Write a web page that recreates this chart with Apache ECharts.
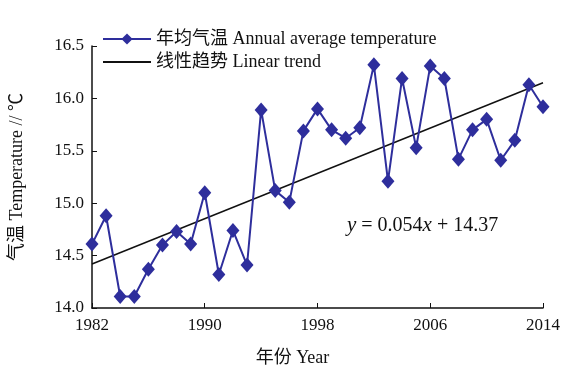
<!DOCTYPE html>
<html>
<head>
<meta charset="utf-8">
<script src="https://cdn.jsdelivr.net/npm/echarts@6/dist/echarts.min.js"></script>
<style>
html,body{margin:0;padding:0;background:#fff;}
#main{width:563px;height:372px;}
</style>
</head>
<body>
<div id="main"></div>
<script>
var years = ['1982','1983','1984','1985','1986','1987','1988','1989','1990','1991','1992','1993','1994','1995','1996','1997','1998','1999','2000','2001','2002','2003','2004','2005','2006','2007','2008','2009','2010','2011','2012','2013','2014'];
var temps = [14.61,14.88,14.11,14.11,14.37,14.60,14.73,14.61,15.10,14.32,14.74,14.41,15.89,15.12,15.01,15.69,15.90,15.70,15.62,15.72,16.32,15.21,16.19,15.53,16.31,16.19,15.42,15.70,15.80,15.41,15.60,16.13,15.92];
var trendYears = ['1982','2014'];
var trendValues = [14.42, 16.15];
var yTicks = [14.0, 14.5, 15.0, 15.5, 16.0, 16.5];

var FONT = '"Liberation Serif", "Noto Sans CJK SC", serif';
var BLUE = '#2e2e9c';

var trendData = years.map(function(y){
  var i = trendYears.indexOf(y);
  return i >= 0 ? trendValues[i] : null;
});

var chart = echarts.init(document.getElementById('main'), null, {renderer:'canvas'});
chart.setOption({
  animation:false,
  backgroundColor:'#fff',
  textStyle:{fontFamily:FONT},
  grid:{left:90.5,right:20,top:46,bottom:61},
  legend:{
    orient:'vertical', left:97, top:25, itemWidth:48, itemHeight:14, itemGap:5,
    textStyle:{fontFamily:FONT, fontSize:18, color:'#111'},
    data:[
      {name:'年均气温 Annual average temperature'},
      {name:'线性趋势 Linear trend', itemStyle:{opacity:0}}
    ]
  },
  xAxis:{
    type:'category', data:years, boundaryGap:false,
    name:'年份 Year', nameLocation:'middle', nameGap:41,
    nameTextStyle:{fontFamily:FONT, fontSize:18, color:'#111', padding:[0,50,0,0]},
    axisLine:{lineStyle:{color:'#111',width:1.5}},
    axisTick:{inside:true, length:5, interval:7, alignWithLabel:true, lineStyle:{color:'#111'}},
    axisLabel:{interval:7, fontFamily:FONT, fontSize:17, color:'#111', margin:9},
    splitLine:{show:false}
  },
  yAxis:{
    type:'value', min:yTicks[0], max:yTicks[yTicks.length-1], interval:0.5,
    name:'气温 Temperature // ℃', nameLocation:'middle', nameGap:66, nameRotate:90,
    nameTextStyle:{fontFamily:FONT, fontSize:18, color:'#111'},
    axisLine:{show:true, lineStyle:{color:'#111',width:1.5}},
    axisTick:{show:true, inside:true, length:5, lineStyle:{color:'#111'}},
    axisLabel:{fontFamily:FONT, fontSize:17, color:'#111', margin:8,
      formatter:function(v){return v.toFixed(1);}},
    splitLine:{show:false}
  },
  series:[
    {
      name:'年均气温 Annual average temperature', type:'line', data:temps,
      symbol:'diamond', symbolSize:[13,15], showSymbol:true, showAllSymbol:true,
      lineStyle:{color:BLUE,width:2}, itemStyle:{color:BLUE}, z:3
    },
    {
      name:'线性趋势 Linear trend', type:'line', data:trendData, connectNulls:true,
      symbol:'none', lineStyle:{color:'#111',width:1.5}, itemStyle:{color:'#111'}, z:2
    }
  ],
  graphic:[{
    type:'text', left:347, top:215,
    style:{
      text:'{i|y} = 0.054{i|x} + 14.37',
      font:'20px ' + FONT, fill:'#111',
      rich:{i:{fontStyle:'italic', fontFamily:FONT, fontSize:21}}
    }
  }]
});
</script>
</body>
</html>
